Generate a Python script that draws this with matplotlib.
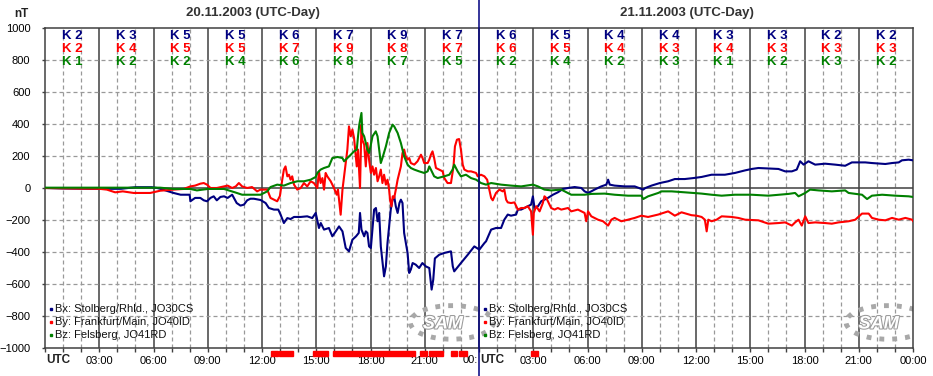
import matplotlib.pyplot as plt
import matplotlib.patheffects as pe
from matplotlib.transforms import blended_transform_factory
from matplotlib.patches import Rectangle, Arc

plt.rcParams['font.family'] = ['Liberation Sans', 'DejaVu Sans']

# Bx: Stolberg/Rhld. (Stunden ab 20.11.2003 00:00 UTC, nT)
bx_hours = [0, 1.0, 2.5, 4.2, 5.0, 5.9, 6.2, 6.37, 7.11, 7.5, 8.0, 8.04, 8.3, 8.59, 8.78, 8.96, 9.15,
            9.33, 9.5, 9.7, 9.9, 10.1, 10.35, 10.6, 10.81, 11.0, 11.18, 11.36, 11.55, 11.92, 12.2,
            12.38, 12.66, 12.9, 13.03, 13.21, 13.4, 13.58, 13.77, 14.14, 14.5, 14.78, 14.97, 15.15,
            15.25, 15.43, 15.7, 15.89, 16.08, 16.26, 16.45, 16.63, 16.81, 17.0, 17.2, 17.35, 17.42,
            17.5, 17.65, 17.74, 17.83, 17.92, 18.02, 18.2, 18.3, 18.39, 18.48, 18.57, 18.75, 18.85,
            18.94, 19.12, 19.22, 19.31, 19.4, 19.5, 19.6, 19.68, 19.77, 19.86, 20.05, 20.14, 20.23,
            20.33, 20.5, 20.69, 20.87, 21.06, 21.25, 21.38, 21.47, 21.56, 21.8, 22.08, 22.45, 22.55,
            22.63, 23.0, 23.38, 23.74, 24.02, 24.3, 24.39, 24.67, 24.94, 25.22, 25.4, 25.59, 25.77,
            26.05, 26.15, 26.33, 26.51, 26.7, 26.88, 26.98, 27.07, 27.26, 27.44, 27.62, 27.81, 28.09,
            28.36, 28.64, 28.92, 29.29, 29.66, 29.84, 30.03, 30.21, 30.39, 30.76, 31.04, 31.14, 31.23,
            31.5, 32.06, 32.61, 33.08, 33.2, 33.54, 34.0, 34.46, 34.83, 35.38, 35.85, 36.31, 36.86,
            37.6, 38.15, 38.71, 39.08, 39.45, 40.56, 40.93, 41.3, 41.57, 41.76, 41.95, 42.22, 42.59,
            43.14, 43.7, 44.25, 44.62, 45.36, 45.73, 46.47, 46.84, 47.21, 47.39, 47.76, 48.0]
bx_nt = [0, -3, -5, -5, 5, 5, 0, -5, -31, -42, -42, -83, -62, -62, -77, -83, -62,
         -52, -77, -56, -52, -62, -42, -94, -110, -104, -77, -67, -67, -75, -94,
         -125, -135, -135, -167, -219, -188, -194, -181, -181, -177, -188, -156, -250,
         -219, -260, -250, -302, -271, -240, -271, -375, -396, -323, -302, -281, -156,
         -260, -302, -271, -281, -365, -375, -135, -125, -208, -156, -365, -552, -490,
         -344, -135, -73, -52, -115, -156, -94, -73, -94, -281, -406, -531, -510,
         -469, -479, -500, -469, -490, -500, -635, -573, -440, -417, -406, -396, -490,
         -521, -469, -417, -365, -385, -344, -333, -260, -250, -250, -198, -166, -173,
         -166, -135, -135, -125, -114, -104, -52, -125, -114, -83, -73, -62, -42,
         -27, -6, 0, 6, 0, -21, -31, -21, -10, 10, 21, 52, 21,
         15, 10, 10, -10, 0, 15, 31, 42, 56, 56, 62, 69, 83,
         83, 94, 110, 119, 125, 119, 104, 104, 115, 167, 146, 167, 146,
         152, 146, 139, 160, 160, 156, 150, 156, 160, 173, 177, 173]

# By: Frankfurt/Main
by_hours = [0, 1.5, 3.0, 3.42, 3.88, 4.3, 4.9, 5.82, 6.37, 7.11, 7.67, 8.04, 8.3, 8.59, 8.78, 8.96,
            9.15, 9.5, 9.9, 10.1, 10.35, 10.55, 10.72, 10.9, 11.18, 11.45, 11.73, 11.92, 12.29, 12.47,
            12.66, 12.84, 12.99, 13.12, 13.21, 13.3, 13.4, 13.49, 13.58, 13.67, 13.77, 13.95, 14.14,
            14.32, 14.5, 14.69, 14.87, 15.06, 15.15, 15.24, 15.34, 15.43, 15.52, 15.61, 15.8, 15.98,
            16.13, 16.2, 16.35, 16.45, 16.54, 16.63, 16.72, 16.81, 16.91, 17.0, 17.09, 17.24, 17.31,
            17.42, 17.5, 17.55, 17.65, 17.74, 17.83, 17.92, 18.02, 18.11, 18.2, 18.3, 18.39, 18.48,
            18.57, 18.66, 18.75, 18.85, 18.94, 19.03, 19.08, 19.16, 19.23, 19.31, 19.4, 19.5, 19.59,
            19.68, 19.77, 19.86, 19.95, 20.05, 20.14, 20.23, 20.42, 20.6, 20.79, 20.88, 20.97, 21.16,
            21.25, 21.34, 21.43, 21.52, 21.62, 21.8, 21.99, 22.08, 22.26, 22.45, 22.59, 22.67, 22.78,
            22.9, 23.0, 23.1, 23.19, 23.38, 23.56, 23.84, 23.93, 24.11, 24.3, 24.45, 24.57, 24.67,
            24.76, 24.94, 25.13, 25.31, 25.4, 25.5, 25.59, 25.77, 25.96, 26.15, 26.33, 26.51, 26.7,
            26.88, 26.98, 27.03, 27.16, 27.35, 27.53, 27.62, 27.72, 27.81, 27.99, 28.18, 28.36, 28.55,
            28.92, 29.1, 29.47, 29.84, 29.93, 30.03, 30.21, 30.58, 30.86, 31.14, 31.32, 31.5, 31.87,
            32.24, 32.61, 32.98, 33.35, 33.91, 34.46, 34.65, 34.83, 35.2, 35.75, 36.03, 36.31, 36.49,
            36.59, 36.68, 36.86, 37.14, 37.42, 37.97, 38.34, 38.71, 39.45, 40.0, 40.56, 40.93, 41.3,
            41.48, 41.67, 41.85, 42.04, 42.22, 42.59, 43.14, 43.51, 43.88, 44.44, 44.81, 45.18, 45.55,
            45.73, 46.1, 46.47, 46.84, 47.21, 47.58, 47.95, 48.0]
by_nt = [0, -3, -5, -10, -27, -21, -31, -31, -17, -10, -6, 10, 15, 27, 31, 21,
         0, 0, 10, 15, 0, 10, 31, 10, 0, 6, -21, -10, -10, -62,
         -73, -83, -50, 52, 115, 135, 73, 83, 52, 73, 21, -10, 0,
         31, 10, 42, 31, 0, 104, 31, 62, -10, 94, 73, 42, 0,
         -42, -10, -167, -10, 73, 156, 240, 385, 323, 365, 313, 135, 240,
         0, 396, 300, 271, 135, 281, 177, 94, 135, 83, 125, 42, 73,
         115, 31, 83, 21, 52, -10, -73, -115, -52, -62, -10, 52, 94,
         135, 219, 240, 198, 177, 187, 156, 146, 167, 208, 187, 156, 156,
         177, 208, 229, 187, 125, 115, 104, 62, 31, 31, 135, 260, 302,
         306, 240, 146, 115, 104, 104, 94, 73, 83, 73, 52, -10, -62,
         -77, -31, -10, -21, -10, -73, -90, -94, -90, -135, -125, -125, -114,
         -146, -292, -156, -114, -146, -94, -52, -62, -83, -125, -135, -125, -135,
         -125, -146, -135, -156, -208, -146, -177, -198, -208, -235, -198, -187, -208,
         -198, -187, -173, -181, -166, -146, -160, -173, -152, -170, -173, -181, -198,
         -271, -198, -208, -198, -177, -181, -187, -198, -202, -223, -219, -215, -235,
         -215, -198, -235, -177, -219, -215, -219, -223, -215, -208, -198, -160, -160,
         -187, -198, -202, -187, -198, -187, -198, -206]

# Bz: Felsberg
bz_hours = [0, 6.37, 7.11, 8.04, 8.4, 9.0, 9.9, 10.5, 10.9, 11.36, 11.92, 12.29, 12.47, 12.84, 13.21,
            13.58, 13.95, 14.32, 14.69, 14.97, 15.06, 15.24, 15.43, 15.7, 15.89, 16.18, 16.45, 16.54,
            16.72, 16.91, 17.09, 17.24, 17.31, 17.38, 17.5, 17.55, 17.65, 17.83, 17.92, 18.02, 18.11,
            18.29, 18.39, 18.48, 18.57, 18.66, 18.85, 19.03, 19.22, 19.31, 19.5, 19.68, 19.86, 20.05,
            20.23, 20.42, 20.69, 20.97, 21.16, 21.25, 21.34, 21.52, 21.71, 22.08, 22.36, 22.54, 22.63,
            22.82, 23.0, 23.28, 23.56, 23.84, 24.11, 24.39, 24.67, 25.22, 25.77, 26.33, 26.98, 27.26,
            27.62, 27.99, 28.55, 29.1, 29.84, 30.21, 30.95, 31.5, 32.24, 32.98, 33.08, 33.35, 33.91,
            34.1, 34.65, 35.38, 36.31, 36.86, 37.42, 38.15, 39.08, 40.0, 41.11, 41.48, 41.67, 42.04,
            42.31, 42.77, 43.51, 44.25, 44.44, 45.18, 45.46, 45.73, 46.29, 47.02, 47.76, 48.0]
bz_nt = [2, 2, -6, -6, -15, -6, -6, -27, -42, -42, -42, -21, 6, 21, 15,
         31, 42, 42, 52, 69, 94, 115, 125, 135, 187, 194, 187, 167,
         187, 208, 229, 240, 323, 396, 469, 344, 323, 240, 219, 271, 323,
         354, 323, 240, 156, 187, 260, 344, 396, 385, 344, 281, 198, 146,
         125, 115, 104, 94, 104, 135, 115, 73, 62, 73, 83, 115, 146,
         104, 73, 83, 62, 52, 31, 21, 31, 21, 15, 10, 21, 10,
         -10, -15, -10, -42, -42, -37, -35, -42, -48, -48, -69, -52, -31,
         -21, -21, -27, -35, -42, -48, -42, -42, -48, -37, -31, -52, -31,
         -10, -15, -21, -15, -31, -42, -69, -48, -42, -48, -52, -56]

# K-Indizes je 3-Stunden-Intervall
k_bx = [2, 3, 5, 5, 6, 7, 9, 7, 6, 5, 4, 4, 3, 3, 2, 2]
k_by = [2, 4, 5, 5, 7, 9, 8, 7, 6, 5, 4, 3, 4, 3, 3, 3]
k_bz = [1, 2, 2, 4, 6, 8, 7, 5, 2, 4, 2, 3, 1, 2, 3, 2]

# rote Markierungen unter der Achse (Stunden)
mark_start = [12.49, 12.93, 14.81, 15.91, 20.72, 21.22, 22.43, 22.87, 26.85]
mark_end = [12.87, 13.70, 15.64, 20.44, 21.10, 21.99, 22.76, 23.31, 27.24]

days = ['20.11.2003 (UTC-Day)', '21.11.2003 (UTC-Day)']
stations = ['Bx: Stolberg/Rhld., JO30CS', 'By: Frankfurt/Main, JO40ID', 'Bz: Felsberg, JO41RD']

blue, red, green = '#000080', '#ff0000', '#008000'
dark = '#404040'

fig = plt.figure(figsize=(9.33, 3.76), dpi=100)
ax = fig.add_axes([45 / 933, 28 / 376, 868 / 933, 320 / 376])
ax.set_xlim(0, 48)
ax.set_ylim(-1000, 1000)
trans = blended_transform_factory(ax.transData, ax.transAxes)

# Gitter
for h in range(1, 48):
    if h % 3 == 0:
        ax.axvline(h, color=dark, lw=1.1, zorder=1)
    else:
        ax.axvline(h, color='#999999', lw=0.9, ls=(0, (3.2, 2.4)), zorder=1)
for v in range(-800, 1000, 200):
    if v == 0:
        ax.axhline(0, color=dark, lw=1.1, zorder=1)
    else:
        ax.axhline(v, color='#999999', lw=0.9, ls=(0, (3.2, 2.4)), zorder=1)

for s in ax.spines.values():
    s.set_color(dark)
    s.set_linewidth(1.1)

# Kurven
ax.plot(bx_hours, bx_nt, color=blue, lw=1.5, zorder=3)
ax.plot(by_hours, by_nt, color=red, lw=1.5, zorder=3)
ax.plot(bz_hours, bz_nt, color=green, lw=1.5, zorder=3)

# Tageswechsel
ax.axvline(24, ymin=-0.09, ymax=1.09, color=blue, lw=1.1, clip_on=False, zorder=6)

# Achsen
ax.set_xticks(range(0, 49, 3))
ax.set_xticks(range(0, 49), minor=True)
ax.set_xticklabels(['' if h in (0, 24) else f'{h % 24:02d}:00' for h in range(0, 49, 3)])
ax.set_yticks(range(-1000, 1001, 200))
ax.tick_params(axis='x', which='both', direction='out', length=3, width=1, color=dark,
               labelsize=8, pad=3)
ax.tick_params(axis='y', direction='out', length=2.5, width=1, color=dark, labelsize=8, pad=8)

# "00:" der Mitternacht wird vom zweiten "UTC" verdeckt
ax.text(23.95, -0.038, '00:', transform=trans, ha='right', va='center', fontsize=8,
        clip_on=False)
for h in (0, 24):
    ax.text(h + 0.05, -0.038, 'UTC', transform=trans, ha='left', va='center', fontsize=8.5,
            fontweight='bold', color='#222222', clip_on=False, zorder=5)

fig.text(21 / 933, 1 - 14 / 376, 'nT', ha='center', va='center', fontsize=8.5,
         fontweight='bold', color='#222222')

for i, d in enumerate(days):
    ax.text(11.5 + 24 * i, 1.047, d, transform=trans, ha='center', va='center', fontsize=9.5,
            fontweight='bold', color='#333333', clip_on=False)

# K-Indizes
for i in range(16):
    xc = 1.5 + 3 * i
    for kv, col, yy in ((k_bx, blue, 0.975), (k_by, red, 0.933), (k_bz, green, 0.893)):
        ax.text(xc, yy, f'K {kv[i]}', transform=trans, ha='center', va='center', fontsize=9.5,
                fontweight='bold', color=col, zorder=5)

# Legenden
for x0 in (0.33, 24.33):
    for name, col, yy in zip(stations, (blue, red, green), (0.122, 0.081, 0.041)):
        ax.plot([x0], [yy], marker='s', ms=2, color=col, transform=trans, zorder=5)
        ax.text(x0 + 0.22, yy, name, transform=trans, ha='left', va='center', fontsize=8,
                color='#111111', zorder=5)

# SAM-Logo
for xc in (22.0, 46.1):
    ax.add_patch(Arc((xc + 0.5, -840), 4.6, 210, theta1=-110, theta2=95, color='#a8a8a8',
                     lw=3.5, ls=':', zorder=2))
    ax.text(xc, -850, 'SAM', ha='center', va='center', fontsize=13, fontweight='bold',
            style='italic', color='white', zorder=2,
            path_effects=[pe.withStroke(linewidth=1.5, foreground='#9a9a9a')])

# rote Markierungen
for s, e in zip(mark_start, mark_end):
    ax.add_patch(Rectangle((s, -0.026), e - s, 0.016, transform=trans, color=red,
                           clip_on=False, zorder=4))

fig.savefig('out.png', dpi=100)
